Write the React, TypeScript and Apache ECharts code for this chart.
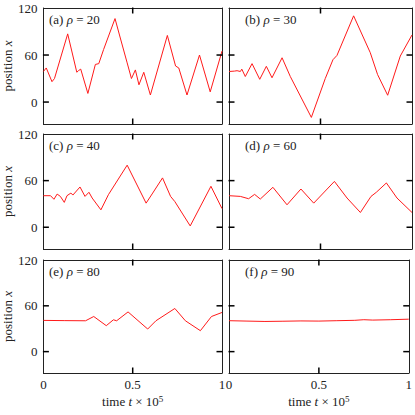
import React, { useEffect, useRef } from "react";
import * as echarts from "echarts";

// ---- data (time in units of 1e5, position x) ----
const PANEL_LABELS = ["(a)", "(b)", "(c)", "(d)", "(e)", "(f)"];
const RHO_VALUES = [20, 30, 40, 60, 80, 90];

const T_A = [0, 0.016, 0.048, 0.062, 0.136, 0.187, 0.196, 0.209, 0.249, 0.291, 0.31, 0.337, 0.401, 0.429, 0.469, 0.493, 0.515, 0.535, 0.562, 0.599, 0.694, 0.74, 0.758, 0.804, 0.874, 0.934, 1.0];
const X_A = [39, 43.5, 26, 30, 87, 38, 40, 42, 11, 48, 49, 67, 106.5, 83, 50, 30, 41, 22, 38, 9, 85, 46, 43.5, 9, 60, 13, 65];

const T_B = [0, 0.03, 0.044, 0.062, 0.07, 0.089, 0.126, 0.168, 0.204, 0.235, 0.29, 0.335, 0.45, 0.526, 0.568, 0.59, 0.681, 0.772, 0.812, 0.867, 0.936, 1.0];
const X_B = [39, 39.5, 40, 39, 42, 32.6, 49, 29, 45.6, 31, 56.5, 32.6, -19.6, 30, 54, 59.5, 110, 63, 35, 8.7, 58.7, 85.6];

const T_C = [0, 0.04, 0.059, 0.077, 0.095, 0.117, 0.132, 0.154, 0.165, 0.205, 0.233, 0.255, 0.273, 0.322, 0.364, 0.469, 0.575, 0.612, 0.667, 0.712, 0.736, 0.822, 0.938, 1.0];
const X_C = [40.6, 40.6, 36, 42.7, 39.7, 32, 40.6, 44, 41.4, 51.8, 39.7, 45, 37.6, 22.4, 41.9, 79.9, 31, 44, 63.5, 39.7, 33, 1.7, 52.7, 24];

const T_D = [0, 0.062, 0.107, 0.14, 0.171, 0.24, 0.317, 0.393, 0.463, 0.576, 0.645, 0.718, 0.776, 0.805, 0.86, 0.918, 1.0];
const X_D = [40.6, 39.7, 36.7, 42.3, 36.3, 51.4, 28.9, 49.2, 31, 59, 37.6, 19, 39.7, 45, 57, 37.6, 19];

const T_E = [0, 0.12, 0.236, 0.282, 0.352, 0.392, 0.41, 0.474, 0.584, 0.63, 0.736, 0.795, 0.879, 0.941, 1.0];
const X_E = [40.9, 40.6, 40.4, 46, 34, 41.7, 40.4, 52, 29.6, 40.4, 56.5, 40.4, 27.4, 46, 51.3];

const T_F = [0, 0.1, 0.2, 0.3, 0.4, 0.5, 0.6, 0.7, 0.75, 0.8, 0.9, 1.0];
const X_F = [40.5, 40, 39.5, 39.8, 40.2, 40, 40.5, 41, 41.8, 41.3, 41.8, 42.5];

const TIMES = [T_A, T_B, T_C, T_D, T_E, T_F];
const POSITIONS = [X_A, X_B, X_C, X_D, X_E, X_F];

const X_TICKS = [0, 0.5, 1];
const Y_TICKS = [0, 60, 120];
const X_INNER_TICKS = [0.5];
const Y_INNER_TICKS = [0, 60];
const X_MIN = 0;
const X_MAX = 1;
const Y_MIN = -28;
const Y_MAX = 120;

const FONT = "'Liberation Serif', 'DejaVu Serif', serif";
const FS = 13;

export default function App() {
  const ref = useRef<HTMLDivElement>(null);

  useEffect(() => {
    if (!ref.current) return;
    const chart = echarts.init(ref.current, null, { renderer: "svg" });

    const colLeft = [40, 229];
    const colWidth = [182, 183];
    const rowTop = [8, 134, 260];
    const rowHeight = [116, 115, 113];
    const labelOffset = [9, 16];
    const TL = 6; // tick length (centered symbol, half hidden on frame)
    const TW = 1.5; // tick width
    const TICK_COLOR = "#000";

    const grids: any[] = [];
    const xAxes: any[] = [];
    const yAxes: any[] = [];
    const series: any[] = [];
    const graphics: any[] = [];

    const frameLine = { show: true, onZero: false, lineStyle: { color: "#222", width: 1 } };

    const tickSeries = (i: number, data: number[][], size: number[], offset: number[]) => ({
      type: "scatter",
      xAxisIndex: 2 * i,
      yAxisIndex: 2 * i,
      data,
      symbol: "rect",
      symbolSize: size,
      symbolOffset: offset,
      itemStyle: { color: TICK_COLOR, opacity: 1, borderWidth: 0 },
      emphasis: { disabled: true },
      silent: true,
      clip: false,
      z: 6,
    });

    for (let i = 0; i < 6; i++) {
      const row = Math.floor(i / 2);
      const col = i % 2;
      grids.push({
        left: colLeft[col],
        top: rowTop[row],
        width: colWidth[col],
        height: rowHeight[row],
        show: false,
        containLabel: false,
      });

      xAxes.push({
        gridIndex: i,
        type: "value",
        min: X_MIN,
        max: X_MAX,
        position: "bottom",
        axisLine: frameLine,
        splitLine: { show: false },
        axisTick: { show: false },
        axisLabel: {
          show: row === 2,
          customValues: X_TICKS,
          formatter: (v: number) => String(v),
          fontFamily: FONT,
          fontSize: FS,
          color: "#222",
          margin: 5,
        },
        name: row === 2 ? "time {i|t} × 10{s|5}" : "",
        nameLocation: "middle",
        nameGap: 21,
        nameTextStyle: {
          fontFamily: FONT,
          fontSize: FS,
          color: "#222",
          rich: {
            i: { fontFamily: FONT, fontSize: FS, fontStyle: "italic", color: "#222" },
            s: { fontFamily: FONT, fontSize: 9, color: "#222", verticalAlign: "top", padding: [0, 0, 6, 0] },
          },
        },
      });
      xAxes.push({
        gridIndex: i,
        type: "value",
        min: X_MIN,
        max: X_MAX,
        position: "top",
        axisLine: frameLine,
        splitLine: { show: false },
        axisTick: { show: false },
        axisLabel: { show: false },
      });
      yAxes.push({
        gridIndex: i,
        type: "value",
        min: Y_MIN,
        max: Y_MAX,
        position: "left",
        axisLine: frameLine,
        splitLine: { show: false },
        axisTick: { show: false },
        axisLabel: {
          show: col === 0,
          customValues: Y_TICKS,
          fontFamily: FONT,
          fontSize: FS,
          color: "#222",
          margin: 6,
        },
        name: col === 0 ? "position {i|x}" : "",
        nameLocation: "middle",
        nameRotate: 90,
        nameGap: 25,
        nameTextStyle: {
          fontFamily: FONT,
          fontSize: FS,
          color: "#222",
          rich: { i: { fontFamily: FONT, fontSize: FS, fontStyle: "italic", color: "#222" } },
        },
      });
      yAxes.push({
        gridIndex: i,
        type: "value",
        min: Y_MIN,
        max: Y_MAX,
        position: "right",
        axisLine: frameLine,
        splitLine: { show: false },
        axisTick: { show: false },
        axisLabel: { show: false },
      });

      const t = TIMES[i];
      const x = POSITIONS[i];
      series.push({
        type: "line",
        xAxisIndex: 2 * i,
        yAxisIndex: 2 * i,
        data: t.map((tv, k) => [tv, x[k]]),
        showSymbol: false,
        symbol: "none",
        lineStyle: { color: "#ff1a1a", width: 1 },
        clip: true,
        z: 3,
      });

      // inward ticks on the four sides of the frame
      series.push(tickSeries(i, X_INNER_TICKS.map((v) => [v, Y_MAX]), [TW, TL], [0, TL / 2 - 0.5]));
      series.push(tickSeries(i, X_INNER_TICKS.map((v) => [v, Y_MIN]), [TW, TL], [0, -TL / 2 + 0.5]));
      series.push(tickSeries(i, Y_INNER_TICKS.map((v) => [X_MIN, v]), [TL, TW], [TL / 2 - 0.5, 0]));
      series.push(tickSeries(i, Y_INNER_TICKS.map((v) => [X_MAX, v]), [TL, TW], [-TL / 2 + 0.5, 0]));

      graphics.push({
        type: "text",
        left: colLeft[col] + labelOffset[col],
        top: rowTop[row] + 5,
        style: {
          text: `${PANEL_LABELS[i]} {i|ρ} = ${RHO_VALUES[i]}`,
          fontFamily: FONT,
          fontSize: FS,
          fill: "#222",
          rich: { i: { fontFamily: FONT, fontSize: FS, fontStyle: "italic", fill: "#222", color: "#222" } },
        },
      });
    }

    chart.setOption({
      animation: false,
      backgroundColor: "#fff",
      grid: grids,
      xAxis: xAxes,
      yAxis: yAxes,
      series,
      graphic: graphics,
    });

    return () => chart.dispose();
  }, []);

  return (
    <div
      ref={ref}
      style={{ position: "absolute", left: 0, top: 0, width: 415, height: 415 }}
    />
  );
}
